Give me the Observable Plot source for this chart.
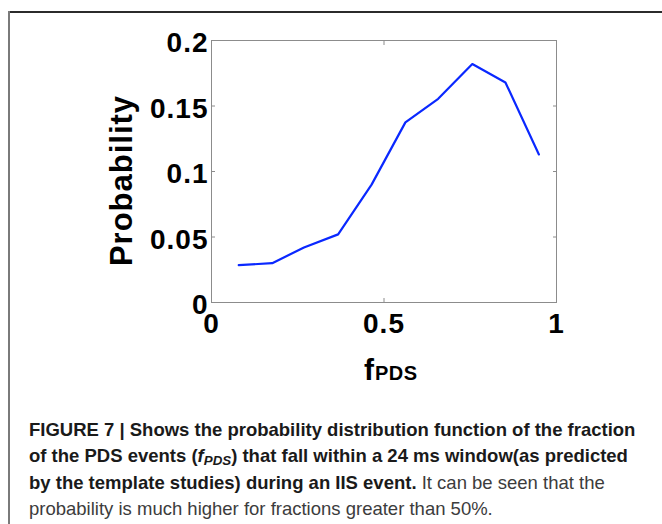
<!DOCTYPE html>
<html>
<head>
<meta charset="utf-8">
<script src="https://cdn.jsdelivr.net/npm/d3@7"></script>
<script src="https://cdn.jsdelivr.net/npm/@observablehq/plot@0.6"></script>
<style>
  html, body { margin: 0; padding: 0; background: #fff; }
  #fig { position: relative; width: 662px; height: 524px; overflow: hidden; background: #fff; }
  #fig .rule-top { position: absolute; left: 8px; top: 11px; width: 654px; height: 2px; background: #2b2b2b; }
  #fig .rule-left { position: absolute; left: 8px; top: 11px; width: 2px; height: 513px; background: #7a7a7a; }
  #chart { position: absolute; left: 0; top: 0; }
  #chart svg [aria-label="y-axis tick label"] text,
  #chart svg [aria-label="x-axis tick label"] text { letter-spacing: 1px; }
  #chart svg .ylab text { letter-spacing: 1px; }
  #chart svg .sub text { letter-spacing: 0.5px; }
  .caption {
    position: absolute; left: 29px; top: 417px;
    font-family: "Liberation Sans", Arial, Helvetica, sans-serif;
    font-size: 18.5px; line-height: 26.3px; color: #3c3c3c; white-space: nowrap;
  }
  .caption b { color: #1a1a1a; font-weight: 700; }
  .caption sub { font-size: 0.72em; vertical-align: -0.25em; line-height: 0; }
</style>
</head>
<body>
<div id="fig">
  <div class="rule-top"></div>
  <div class="rule-left"></div>
  <div id="chart"></div>
  <div class="caption"><b>FIGURE 7 | Shows the probability distribution function of the fraction<br>of the PDS events (<i>f<sub>PDS</sub></i>) that fall within a 24 ms window(as predicted<br>by the template studies) during an IIS event.</b> It can be seen that the<br>probability is much higher for fractions greater than 50%.</div>
</div>
<script>
// Fraction of PDS events falling inside the 24 ms window (bin centres)
const fPDS = [0.079, 0.176, 0.268, 0.367, 0.464, 0.562, 0.657, 0.756, 0.852, 0.949];
// Probability of each bin
const probability = [0.0285, 0.030, 0.042, 0.052, 0.090, 0.1375, 0.1555, 0.182, 0.168, 0.113];
// Axis ticks
const xTicks = [0, 0.5, 1];
const yTicks = [0, 0.05, 0.1, 0.15, 0.2];

const points = fPDS.map((x, i) => ({x, y: probability[i]}));
const fmt = d => String(d);
const tickStyle = {fontSize: 28, fontWeight: "bold", fill: "#000", label: null};
const inward = {tickSize: -4, stroke: "#8c8c8c", fill: "none", label: null};

const chart = Plot.plot({
  width: 662,
  height: 390,
  marginLeft: 211,
  marginRight: 106,
  marginTop: 40,
  marginBottom: 88,
  style: {fontFamily: "'Liberation Sans', Arial, Helvetica, sans-serif", background: "transparent", overflow: "visible"},
  x: {domain: [0, 1], label: null},
  y: {domain: [0, 0.2], label: null},
  marks: [
    Plot.frame({stroke: "#8c8c8c", strokeWidth: 1}),
    // inward MATLAB-style ticks on all four sides
    Plot.axisX(xTicks, {anchor: "bottom", ...inward}),
    Plot.axisX(xTicks, {anchor: "top", ...inward}),
    Plot.axisY(yTicks, {anchor: "left", ...inward}),
    Plot.axisY(yTicks, {anchor: "right", ...inward}),
    // tick labels
    Plot.axisX(xTicks, {anchor: "bottom", tickSize: 0, tickPadding: 11, tickFormat: fmt, ...tickStyle}),
    Plot.axisY(yTicks, {anchor: "left", tickSize: 0, tickPadding: 3, dy: 3, tickFormat: fmt, ...tickStyle}),
    // axis titles
    Plot.text(["Probability"], {text: d => d, frameAnchor: "left", textAnchor: "middle", rotate: -90, dx: -89, dy: 9,
      fontSize: 31, fontWeight: "bold", fill: "#000", className: "ylab"}),
    Plot.text(["f"], {text: d => d, frameAnchor: "bottom", textAnchor: "end", lineAnchor: "bottom",
      dx: -10, dy: 77, fontSize: 30, fontWeight: "bold", fill: "#000"}),
    Plot.text(["PDS"], {text: d => d, frameAnchor: "bottom", textAnchor: "start", lineAnchor: "bottom",
      dx: -9, dy: 77, fontSize: 20, fontWeight: "bold", fill: "#000", className: "sub"}),
    // probability distribution
    Plot.line(points, {x: "x", y: "y", stroke: "#0a28ff", strokeWidth: 2.2})
  ]
});

document.getElementById("chart").appendChild(chart);
</script>
</body>
</html>
